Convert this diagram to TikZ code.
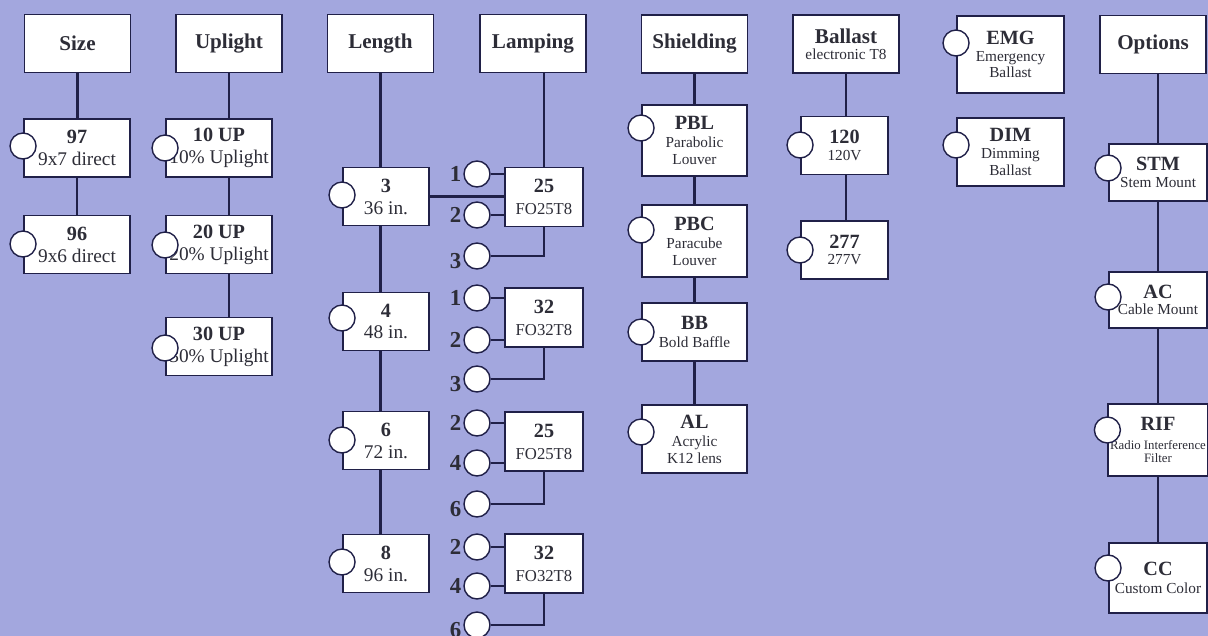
\documentclass[tikz,border=0pt]{standalone}
\usepackage{fontspec}
\setmainfont{Liberation Serif}
\usepackage{tikz}
\usetikzlibrary{positioning,calc}
\definecolor{sheetLilac}{RGB}{163,167,222}
\definecolor{wireNavy}{RGB}{32,32,72}
\definecolor{inkGray}{RGB}{45,45,55}
\newcommand{\optcode}[1]{{\fontsize{11.5}{12}\selectfont\bfseries #1}}
\newcommand{\optsmall}[1]{{\fontsize{8.7}{9}\selectfont #1}}
\tikzset{
  head/.style={draw=wireNavy, line width=1.1pt, fill=white, text=inkGray, minimum width=2.12cm,
    minimum height=1.16cm, align=center, inner sep=1pt, font=\fontsize{12}{13}\selectfont\bfseries},
  optbig/.style={draw=wireNavy, line width=1.1pt, fill=white, text=inkGray, minimum height=1.16cm,
    align=center, inner sep=1pt, font=\fontsize{11}{12.5}\selectfont},
  optsml/.style={optbig, font=\fontsize{8.7}{9.5}\selectfont},
  knob/.style={circle, draw=wireNavy, line width=0.8pt, fill=white, minimum size=0.52cm, inner sep=0pt},
  lampno/.style={text=inkGray, inner sep=1pt, font=\fontsize{13}{13}\selectfont\bfseries},
  link/.style={wireNavy, line width=1.6pt},
}

\begin{document}
\begin{tikzpicture}[x=0.02cm, y=-0.02cm]
  \fill[sheetLilac] (0,0) rectangle (1208,636);
  \useasboundingbox (0,0) rectangle (1208,636);
  % Headers
  \node[head] (size) at (77.5,43.5) {Size};
  \node[head] (uplight) at (229,43.5) {Uplight};
  \node[head] (length) at (380.5,43.5) {Length};
  \node[head] (lamping) at (533,43.5) {Lamping};
  \node[head] (shielding) at (694.5,44) {Shielding};
  \node[head] (ballast) at (846,44) {Ballast\\[-4pt]{\mdseries\fontsize{8.7}{9}\selectfont electronic T8}};
  \node[head] (options) at (1153,44.5) {Options};
  % Size
  \node[optbig, minimum width=2.12cm] (s97) at (77,148) {\optcode{97}\\9x7 direct};
  \node[optbig, minimum width=2.12cm] (s96) at (77,244.5) {\optcode{96}\\9x6 direct};
  % Uplight
  \node[optbig, minimum width=2.12cm] (u10) at (219,148) {\optcode{10 UP}\\10\% Uplight};
  \node[optbig, minimum width=2.12cm] (u20) at (219,244.5) {\optcode{20 UP}\\20\% Uplight};
  \node[optbig, minimum width=2.12cm] (u30) at (219,346.5) {\optcode{30 UP}\\30\% Uplight};
  % Length
  \node[optbig, minimum width=1.72cm] (l3) at (386,196.5) {\optcode{3}\\36 in.};
  \node[optbig, minimum width=1.72cm] (l4) at (386,321.5) {\optcode{4}\\48 in.};
  \node[optbig, minimum width=1.72cm] (l6) at (386,440.5) {\optcode{6}\\72 in.};
  \node[optbig, minimum width=1.72cm] (l8) at (386,563.5) {\optcode{8}\\96 in.};
  % Lamping
  \node[optbig, minimum width=1.56cm, minimum height=1.18cm] (la1) at (544,197)
    {\optcode{25}\\{\fontsize{9.5}{10}\selectfont FO25T8}};
  \node[optbig, minimum width=1.56cm, minimum height=1.18cm] (la2) at (544,317.5)
    {\optcode{32}\\{\fontsize{9.5}{10}\selectfont FO32T8}};
  \node[optbig, minimum width=1.56cm, minimum height=1.18cm] (la3) at (544,441.5)
    {\optcode{25}\\{\fontsize{9.5}{10}\selectfont FO25T8}};
  \node[optbig, minimum width=1.56cm, minimum height=1.18cm] (la4) at (544,563.5)
    {\optcode{32}\\{\fontsize{9.5}{10}\selectfont FO32T8}};
  % Shielding
  \node[optsml, minimum width=2.1cm, minimum height=1.42cm] (pbl) at (694.5,140.5)
    {\optcode{PBL}\\[1pt]Parabolic\\Louver};
  \node[optsml, minimum width=2.1cm, minimum height=1.44cm] (pbc) at (694.5,241)
    {\optcode{PBC}\\[1pt]Paracube\\Louver};
  \node[optsml, minimum width=2.1cm] (bb) at (694.5,332) {\optcode{BB}\\[1pt]Bold Baffle};
  \node[optsml, minimum width=2.1cm, minimum height=1.36cm] (al) at (694.5,439)
    {\optcode{AL}\\[1pt]Acrylic\\K12 lens};
  % Ballast
  \node[optsml, minimum width=1.74cm] (b120) at (844.5,145.5) {\optcode{120}\\120V};
  \node[optsml, minimum width=1.74cm] (b277) at (844.5,250) {\optcode{277}\\277V};
  \node[optsml, minimum width=2.14cm, minimum height=1.54cm] (emg) at (1010.5,54.5)
    {\optcode{EMG}\\Emergency\\Ballast};
  \node[optsml, minimum width=2.14cm, minimum height=1.36cm] (dim) at (1010.5,152)
    {\optcode{DIM}\\Dimming\\Ballast};
  % Options
  \node[optsml, minimum width=1.96cm, minimum height=1.14cm] (stm) at (1158,172.5) {\optcode{STM}\\Stem Mount};
  \node[optsml, minimum width=1.96cm, minimum height=1.12cm] (ac) at (1158,300) {\optcode{AC}\\Cable Mount};
  \node[optsml, minimum width=1.96cm, minimum height=1.44cm] (rif) at (1158,440)
    {\optcode{RIF}\\[1pt]{\fontsize{7.3}{8}\selectfont Radio Interference}\\[-2pt]{\fontsize{7.3}{8}\selectfont Filter}};
  \node[optsml, minimum width=1.96cm, minimum height=1.4cm] (cc) at (1158,578) {\optcode{CC}\\[1pt]Custom Color};
  % Column lines
  \draw[link] (size.south) -- (size.south |- s97.north);
  \draw[link] (s97) -- (s96);
  \draw[link] (uplight.south) -- (uplight.south |- u10.north);
  \draw[link] (u10.south -| uplight.south) -- (u20.north -| uplight.south);
  \draw[link] (u20.south -| uplight.south) -- (u30.north -| uplight.south);
  \draw[link] (length.south) -- (length.south |- l3.north);
  \draw[link] (l3.south -| length.south) -- (l4.north -| length.south);
  \draw[link] (l4.south -| length.south) -- (l6.north -| length.south);
  \draw[link] (l6.south -| length.south) -- (l8.north -| length.south);
  \draw[link] (la1.north |- lamping.south) -- (la1.north);
  \draw[link] (l3.east) -- (l3.east -| la1.west);
  \draw[link] (shielding) -- (pbl);
  \draw[link] (pbl) -- (pbc);
  \draw[link] (pbc) -- (bb);
  \draw[link] (bb) -- (al);
  \draw[link] (ballast.south) -- (ballast.south |- b120.north);
  \draw[link] (b120.south -| ballast.south) -- (b277.north -| ballast.south);
  \draw[link] (stm.north |- options.south) -- (stm.north);
  \draw[link] (stm) -- (ac);
  \draw[link] (ac) -- (rif);
  \draw[link] (rif) -- (cc);
  % Option circles
  \node[knob] (k97) at (s97.west |- 0,146) {};
  \node[knob] (k96) at (s96.west |- 0,244) {};
  \node[knob] (k10) at (u10.west |- 0,148) {};
  \node[knob] (k20) at (u20.west |- 0,245) {};
  \node[knob] (k30) at (u30.west |- 0,348) {};
  \node[knob] (k3) at (l3.west |- 0,195) {};
  \node[knob] (k4) at (l4.west |- 0,318) {};
  \node[knob] (k6) at (l6.west |- 0,440) {};
  \node[knob] (k8) at (l8.west |- 0,562) {};
  \node[knob] (kpbl) at (pbl.west |- 0,128) {};
  \node[knob] (kpbc) at (pbc.west |- 0,230) {};
  \node[knob] (kbb) at (bb.west |- 0,332) {};
  \node[knob] (kal) at (al.west |- 0,432) {};
  \node[knob] (k120) at (b120.west |- 0,145) {};
  \node[knob] (k277) at (b277.west |- 0,250) {};
  \node[knob] (kemg) at (emg.west |- 0,43) {};
  \node[knob] (kdim) at (dim.west |- 0,145) {};
  \node[knob] (kstm) at (stm.west |- 0,168) {};
  \node[knob] (kac) at (ac.west |- 0,297) {};
  \node[knob] (krif) at (rif.west |- 0,430) {};
  \node[knob] (kcc) at (cc.west |- 0,568) {};
  % Lamp count circles
  \node[knob, label={[lampno]left:1}] (c11) at (477,174) {};
  \node[knob, label={[lampno]left:2}] (c12) at (477,215) {};
  \node[knob, label={[lampno, yshift=-3pt]left:3}] (c13) at (477,256) {};
  \node[knob, label={[lampno]left:1}] (c21) at (477,298) {};
  \node[knob, label={[lampno]left:2}] (c22) at (477,340) {};
  \node[knob, label={[lampno, yshift=-3pt]left:3}] (c23) at (477,379) {};
  \node[knob, label={[lampno]left:2}] (c31) at (477,423) {};
  \node[knob, label={[lampno]left:4}] (c32) at (477,463) {};
  \node[knob, label={[lampno, yshift=-3pt]left:6}] (c33) at (477,504) {};
  \node[knob, label={[lampno]left:2}] (c41) at (477,547) {};
  \node[knob, label={[lampno]left:4}] (c42) at (477,586) {};
  \node[knob, label={[lampno, yshift=-3pt]left:6}] (c43) at (477,625) {};
  % Lamp count links
  \draw[link] (c11.east) -- (c11.east -| la1.west);
  \draw[link] (c12.east) -- (c12.east -| la1.west);
  \draw[link] (c13.east) -| (la1.south);
  \draw[link] (c21.east) -- (c21.east -| la2.west);
  \draw[link] (c22.east) -- (c22.east -| la2.west);
  \draw[link] (c23.east) -| (la2.south);
  \draw[link] (c31.east) -- (c31.east -| la3.west);
  \draw[link] (c32.east) -- (c32.east -| la3.west);
  \draw[link] (c33.east) -| (la3.south);
  \draw[link] (c41.east) -- (c41.east -| la4.west);
  \draw[link] (c42.east) -- (c42.east -| la4.west);
  \draw[link] (c43.east) -| (la4.south);
\end{tikzpicture}
\end{document}
